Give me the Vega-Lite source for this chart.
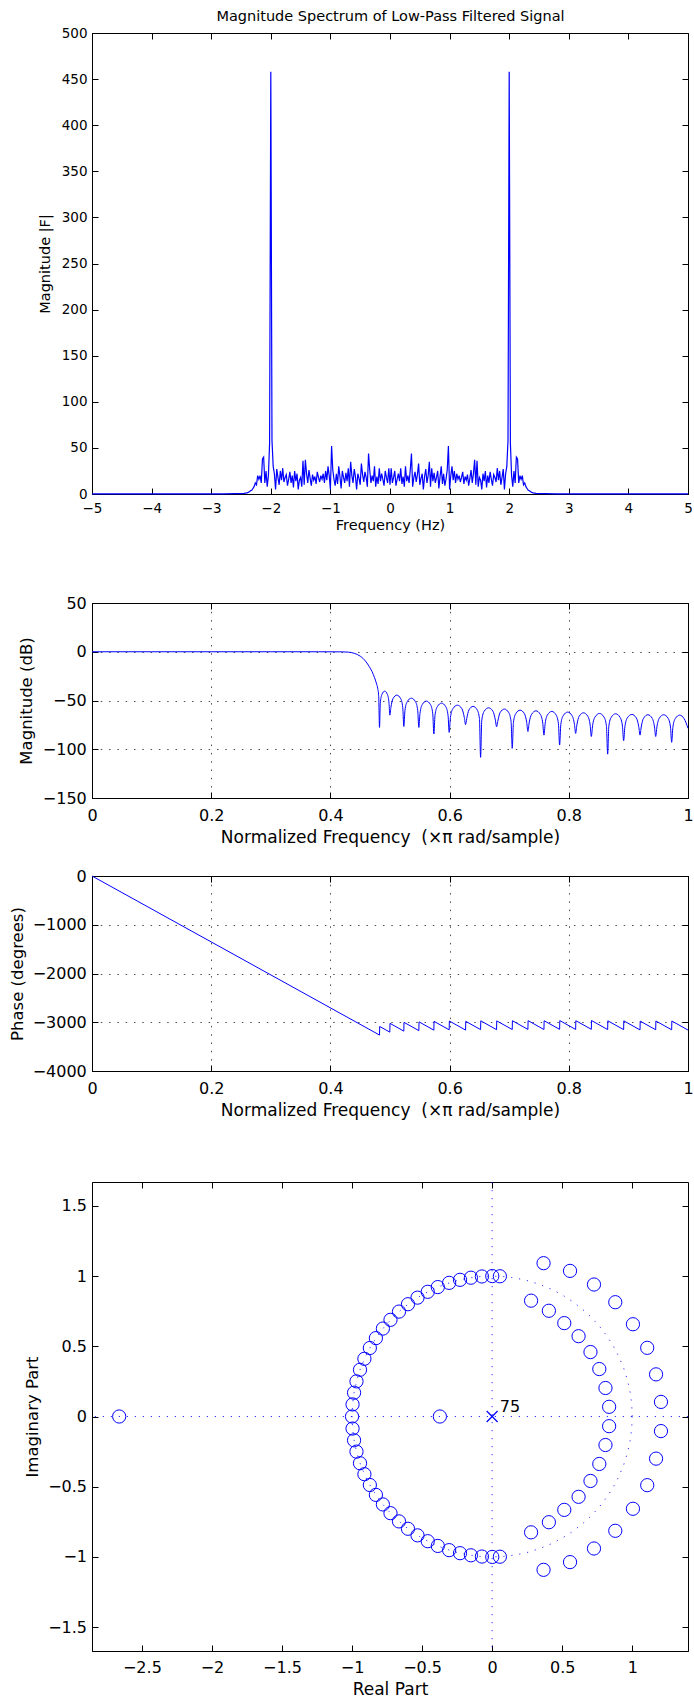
{
"$schema":"https://vega.github.io/schema/vega-lite/v6.json",
"background":"white",
"padding":{"left":9,"top":7,"right":0,"bottom":0},
"config":{"font":"DejaVu Sans","view":{"stroke":"#000","strokeWidth":1},
"axis":{"domainColor":"#000","domainWidth":1,"tickColor":"#000","tickWidth":1,"tickSize":-6,"labelColor":"#000","titleColor":"#000","titleFontWeight":"normal","labelFlush":false,"labelOverlap":false,"grid":false,"labelExpr":"format(datum.value, '~g')"}},
"spacing":0,
"bounds":"flush",
"vconcat":[
{"width":596,"height":461,
"layer":[
{"data":{"values":[
{"f":-5,"m":0.1},{"f":-4,"m":0.1},{"f":-3.5,"m":0.12},{"f":-3,"m":0.15},{"f":-2.8,"m":0.2},{"f":-2.6,"m":0.3},{"f":-2.5,"m":0.45},{"f":-2.45,"m":0.7},{"f":-2.4,"m":1.2},{"f":-2.38,"m":1.8},{"f":-2.36,"m":2.5},{"f":-2.34,"m":3.5},{"f":-2.32,"m":4},{"f":-2.3,"m":6},{"f":-2.28,"m":8},{"f":-2.26,"m":12},{"f":-2.24,"m":10},{"f":-2.22,"m":20},{"f":-2.2,"m":16},{"f":-2.18,"m":20},{"f":-2.16,"m":12},{"f":-2.14,"m":38},{"f":-2.12,"m":40},{"f":-2.1,"m":12},{"f":-2.08,"m":25},{"f":-2.06,"m":8},{"f":-2.04,"m":20},{"f":-2.02,"m":55},{"f":-2,"m":458},{"f":-1.98,"m":58},{"f":-1.96,"m":30},{"f":-1.94,"m":22},{"f":-1.92,"m":5},{"f":-1.9,"m":27},{"f":-1.88,"m":18},{"f":-1.86,"m":10},{"f":-1.84,"m":25},{"f":-1.82,"m":15},{"f":-1.8,"m":28},{"f":-1.78,"m":13},{"f":-1.76,"m":18},{"f":-1.74,"m":21},{"f":-1.72,"m":9},{"f":-1.7,"m":16},{"f":-1.68,"m":24},{"f":-1.66,"m":12},{"f":-1.64,"m":20},{"f":-1.62,"m":7},{"f":-1.6,"m":25},{"f":-1.58,"m":14},{"f":-1.56,"m":22},{"f":-1.54,"m":5},{"f":-1.52,"m":15},{"f":-1.5,"m":18},{"f":-1.48,"m":8},{"f":-1.46,"m":36},{"f":-1.44,"m":10},{"f":-1.42,"m":37},{"f":-1.4,"m":22},{"f":-1.38,"m":12},{"f":-1.36,"m":26},{"f":-1.34,"m":17},{"f":-1.32,"m":9},{"f":-1.3,"m":21},{"f":-1.28,"m":15},{"f":-1.26,"m":19},{"f":-1.24,"m":11},{"f":-1.22,"m":24},{"f":-1.2,"m":18},{"f":-1.18,"m":13},{"f":-1.16,"m":20},{"f":-1.14,"m":16},{"f":-1.12,"m":22},{"f":-1.1,"m":12},{"f":-1.08,"m":25},{"f":-1.06,"m":15},{"f":-1.04,"m":30},{"f":-1.02,"m":20},{"f":-1,"m":5},{"f":-0.98,"m":52},{"f":-0.96,"m":26},{"f":-0.94,"m":16},{"f":-0.92,"m":9},{"f":-0.9,"m":22},{"f":-0.88,"m":11},{"f":-0.86,"m":30},{"f":-0.84,"m":19},{"f":-0.82,"m":6},{"f":-0.8,"m":25},{"f":-0.78,"m":18},{"f":-0.76,"m":12},{"f":-0.74,"m":23},{"f":-0.72,"m":14},{"f":-0.7,"m":28},{"f":-0.68,"m":8},{"f":-0.66,"m":35},{"f":-0.64,"m":20},{"f":-0.62,"m":12},{"f":-0.6,"m":27},{"f":-0.58,"m":19},{"f":-0.56,"m":5},{"f":-0.54,"m":22},{"f":-0.52,"m":17},{"f":-0.5,"m":10},{"f":-0.48,"m":33},{"f":-0.46,"m":21},{"f":-0.44,"m":13},{"f":-0.42,"m":24},{"f":-0.4,"m":18},{"f":-0.38,"m":8},{"f":-0.36,"m":44},{"f":-0.34,"m":26},{"f":-0.32,"m":12},{"f":-0.3,"m":20},{"f":-0.28,"m":14},{"f":-0.26,"m":30},{"f":-0.24,"m":8},{"f":-0.22,"m":19},{"f":-0.2,"m":11},{"f":-0.18,"m":28},{"f":-0.16,"m":14},{"f":-0.14,"m":22},{"f":-0.12,"m":16},{"f":-0.1,"m":9},{"f":-0.08,"m":25},{"f":-0.06,"m":18},{"f":-0.04,"m":12},{"f":-0.02,"m":28},
{"f":0,"m":10},
{"f":0.02,"m":28},{"f":0.04,"m":12},{"f":0.06,"m":18},{"f":0.08,"m":25},{"f":0.1,"m":9},{"f":0.12,"m":16},{"f":0.14,"m":22},{"f":0.16,"m":14},{"f":0.18,"m":28},{"f":0.2,"m":11},{"f":0.22,"m":19},{"f":0.24,"m":8},{"f":0.26,"m":30},{"f":0.28,"m":14},{"f":0.3,"m":20},{"f":0.32,"m":12},{"f":0.34,"m":26},{"f":0.36,"m":44},{"f":0.38,"m":8},{"f":0.4,"m":18},{"f":0.42,"m":24},{"f":0.44,"m":13},{"f":0.46,"m":21},{"f":0.48,"m":33},{"f":0.5,"m":10},{"f":0.52,"m":17},{"f":0.54,"m":22},{"f":0.56,"m":5},{"f":0.58,"m":19},{"f":0.6,"m":27},{"f":0.62,"m":12},{"f":0.64,"m":20},{"f":0.66,"m":35},{"f":0.68,"m":8},{"f":0.7,"m":28},{"f":0.72,"m":14},{"f":0.74,"m":23},{"f":0.76,"m":12},{"f":0.78,"m":18},{"f":0.8,"m":25},{"f":0.82,"m":6},{"f":0.84,"m":19},{"f":0.86,"m":30},{"f":0.88,"m":11},{"f":0.9,"m":22},{"f":0.92,"m":9},{"f":0.94,"m":16},{"f":0.96,"m":26},{"f":0.98,"m":52},{"f":1,"m":5},{"f":1.02,"m":20},{"f":1.04,"m":30},{"f":1.06,"m":15},{"f":1.08,"m":25},{"f":1.1,"m":12},{"f":1.12,"m":22},{"f":1.14,"m":16},{"f":1.16,"m":20},{"f":1.18,"m":13},{"f":1.2,"m":18},{"f":1.22,"m":24},{"f":1.24,"m":11},{"f":1.26,"m":19},{"f":1.28,"m":15},{"f":1.3,"m":21},{"f":1.32,"m":9},{"f":1.34,"m":17},{"f":1.36,"m":26},{"f":1.38,"m":12},{"f":1.4,"m":22},{"f":1.42,"m":37},{"f":1.44,"m":10},{"f":1.46,"m":36},{"f":1.48,"m":8},{"f":1.5,"m":18},{"f":1.52,"m":15},{"f":1.54,"m":5},{"f":1.56,"m":22},{"f":1.58,"m":14},{"f":1.6,"m":25},{"f":1.62,"m":7},{"f":1.64,"m":20},{"f":1.66,"m":12},{"f":1.68,"m":24},{"f":1.7,"m":16},{"f":1.72,"m":9},{"f":1.74,"m":21},{"f":1.76,"m":18},{"f":1.78,"m":13},{"f":1.8,"m":28},{"f":1.82,"m":15},{"f":1.84,"m":25},{"f":1.86,"m":10},{"f":1.88,"m":18},{"f":1.9,"m":27},{"f":1.92,"m":5},{"f":1.94,"m":22},{"f":1.96,"m":30},{"f":1.98,"m":58},{"f":2,"m":458},{"f":2.02,"m":55},{"f":2.04,"m":20},{"f":2.06,"m":8},{"f":2.08,"m":25},{"f":2.1,"m":12},{"f":2.12,"m":40},{"f":2.14,"m":38},{"f":2.16,"m":12},{"f":2.18,"m":20},{"f":2.2,"m":16},{"f":2.22,"m":20},{"f":2.24,"m":10},{"f":2.26,"m":12},{"f":2.28,"m":8},{"f":2.3,"m":6},{"f":2.32,"m":4},{"f":2.34,"m":3.5},{"f":2.36,"m":2.5},{"f":2.38,"m":1.8},{"f":2.4,"m":1.2},{"f":2.45,"m":0.7},{"f":2.5,"m":0.45},{"f":2.6,"m":0.3},{"f":2.8,"m":0.2},{"f":3,"m":0.15},{"f":3.5,"m":0.12},{"f":4,"m":0.1},{"f":5,"m":0.1}
]},
"mark":{"type":"line","color":"#0000ff","strokeWidth":1.2},
"encoding":{
"x":{"field":"f","type":"quantitative","scale":{"domain":[-5,5],"nice":false,"zero":false},
"axis":{"orient":"bottom","values":[-5,-4,-3,-2,-1,0,1,2,3,4,5],"labelFontSize":13.5,"labelPadding":20.2,"labelBaseline":"middle","title":"Frequency (Hz)","titleFontSize":14.5,"titleBaseline":"middle","titleAlign":"center","titleX":298,"titleY":31.5}},
"y":{"field":"m","type":"quantitative","scale":{"domain":[0,500],"nice":false,"zero":false},
"axis":{"orient":"left","values":[0,50,100,150,200,250,300,350,400,450,500],"labelFontSize":13.5,"labelPadding":11,"title":"Magnitude |F|","titleFontSize":14.5,"titleBaseline":"middle","titleAlign":"center","titleAngle":270,"titleX":-46.8,"titleY":230.5}}}},
{"data":{"values":[{}]},"mark":{"type":"point","opacity":0},
"encoding":{
"x":{"datum":0,"type":"quantitative","axis":{"orient":"top","values":[-5,-4,-3,-2,-1,0,1,2,3,4,5],"labels":false,"domain":false,"title":"Magnitude Spectrum of Low-Pass Filtered Signal","titleFontSize":14.5,"titleBaseline":"alphabetic","titleAlign":"center","titleAngle":0,"titleX":298,"titleY":-12.6}},
"y":{"datum":0,"type":"quantitative","axis":{"orient":"right","values":[0,50,100,150,200,250,300,350,400,450,500],"labels":false,"title":null,"domain":false}}}}
],
"resolve":{"axis":{"x":"independent","y":"independent"}}},
{"width":596,"height":109,"data":{"values":[{}]},"mark":{"type":"point","opacity":0},"encoding":{},"view":{"stroke":null}},
{"width":596,"height":195,
"layer":[
{"data":{"values":[
{"x":0,"db":0},{"x":0.1,"db":0},{"x":0.2,"db":0},{"x":0.3,"db":0},{"x":0.38,"db":0},{"x":0.42,"db":-0.1},{"x":0.43,"db":-0.4},{"x":0.44,"db":-1.6},{"x":0.45,"db":-4.5},{"x":0.455,"db":-7},{"x":0.46,"db":-10.5},{"x":0.465,"db":-15},{"x":0.47,"db":-20.5},{"x":0.474,"db":-26.5},{"x":0.477,"db":-32},{"x":0.4795,"db":-38},{"x":0.481,"db":-45},
{"x":0.4824,"db":-77.6},
{"x":0.4837,"db":-53},{"x":0.4863,"db":-44},{"x":0.4911,"db":-40.4},{"x":0.4958,"db":-44},{"x":0.4984,"db":-53},
{"x":0.4997,"db":-65},
{"x":0.5015,"db":-57.1},{"x":0.505,"db":-48.1},{"x":0.5115,"db":-44.5},{"x":0.5179,"db":-48.1},{"x":0.5214,"db":-57.1},
{"x":0.5232,"db":-76.6},
{"x":0.5251,"db":-60.2},{"x":0.5289,"db":-51.2},{"x":0.5358,"db":-47.6},{"x":0.5427,"db":-51.2},{"x":0.5465,"db":-60.2},
{"x":0.5484,"db":-77.6},
{"x":0.5503,"db":-63.2},{"x":0.5541,"db":-54.2},{"x":0.561,"db":-50.6},{"x":0.5679,"db":-54.2},{"x":0.5717,"db":-63.2},
{"x":0.5736,"db":-84.4},
{"x":0.5755,"db":-65.3},{"x":0.5794,"db":-56.3},{"x":0.5865,"db":-52.7},{"x":0.5935,"db":-56.3},{"x":0.5974,"db":-65.3},
{"x":0.5993,"db":-82.7},
{"x":0.6014,"db":-67.4},{"x":0.6055,"db":-58.4},{"x":0.6131,"db":-54.8},{"x":0.6206,"db":-58.4},{"x":0.6247,"db":-67.4},
{"x":0.6268,"db":-74.7},
{"x":0.6287,"db":-68.6},{"x":0.6325,"db":-59.6},{"x":0.6394,"db":-56},{"x":0.6463,"db":-59.6},{"x":0.6501,"db":-68.6},
{"x":0.652,"db":-108.3},
{"x":0.654,"db":-70.1},{"x":0.658,"db":-61.1},{"x":0.6654,"db":-57.5},{"x":0.6728,"db":-61.1},{"x":0.6768,"db":-70.1},
{"x":0.6788,"db":-76.9},
{"x":0.6808,"db":-71.4},{"x":0.6847,"db":-62.4},{"x":0.692,"db":-58.8},{"x":0.6992,"db":-62.4},{"x":0.7031,"db":-71.4},
{"x":0.7051,"db":-99.1},
{"x":0.7071,"db":-72.5},{"x":0.711,"db":-63.5},{"x":0.7183,"db":-59.9},{"x":0.7255,"db":-63.5},{"x":0.7294,"db":-72.5},
{"x":0.7314,"db":-81.8},
{"x":0.7334,"db":-73.2},{"x":0.7375,"db":-64.2},{"x":0.7449,"db":-60.6},{"x":0.7522,"db":-64.2},{"x":0.7563,"db":-73.2},
{"x":0.7583,"db":-85.5},
{"x":0.7603,"db":-73.8},{"x":0.7642,"db":-64.8},{"x":0.7715,"db":-61.2},{"x":0.7787,"db":-64.8},{"x":0.7826,"db":-73.8},
{"x":0.7846,"db":-95.7},
{"x":0.7866,"db":-74.5},{"x":0.7907,"db":-65.5},{"x":0.7981,"db":-61.9},{"x":0.8054,"db":-65.5},{"x":0.8095,"db":-74.5},
{"x":0.8115,"db":-83.8},
{"x":0.8135,"db":-75.2},{"x":0.8174,"db":-66.2},{"x":0.8247,"db":-62.6},{"x":0.8319,"db":-66.2},{"x":0.8358,"db":-75.2},
{"x":0.8378,"db":-86.9},
{"x":0.8399,"db":-75.9},{"x":0.844,"db":-66.9},{"x":0.8515,"db":-63.3},{"x":0.859,"db":-66.9},{"x":0.8631,"db":-75.9},
{"x":0.8652,"db":-105},
{"x":0.8672,"db":-76.2},{"x":0.8712,"db":-67.2},{"x":0.8786,"db":-63.6},{"x":0.886,"db":-67.2},{"x":0.89,"db":-76.2},
{"x":0.892,"db":-91.2},
{"x":0.8941,"db":-76.9},{"x":0.8982,"db":-67.9},{"x":0.9058,"db":-64.3},{"x":0.9133,"db":-67.9},{"x":0.9174,"db":-76.9},
{"x":0.9195,"db":-85.5},
{"x":0.9215,"db":-77.2},{"x":0.9254,"db":-68.2},{"x":0.9327,"db":-64.6},{"x":0.9399,"db":-68.2},{"x":0.9438,"db":-77.2},
{"x":0.9458,"db":-86.9},
{"x":0.9478,"db":-77.2},{"x":0.9518,"db":-68.2},{"x":0.9592,"db":-64.6},{"x":0.9666,"db":-68.2},{"x":0.9706,"db":-77.2},
{"x":0.9726,"db":-92.9},
{"x":0.9746,"db":-77.6},{"x":0.9786,"db":-68.6},{"x":0.986,"db":-65},{"x":0.9934,"db":-68.6},{"x":1,"db":-78.5}
]},
"mark":{"type":"line","color":"#0000ff","strokeWidth":1,"interpolate":"monotone"},
"encoding":{
"x":{"field":"x","type":"quantitative","scale":{"domain":[0,1],"nice":false,"zero":false},
"axis":{"orient":"bottom","values":[0,0.2,0.4,0.6,0.8,1],"labelFontSize":16,"labelPadding":23.2,"labelBaseline":"middle","grid":true,"gridDash":[1.5,6.8],"gridColor":"#000","gridOpacity":0.7,"title":"Normalized Frequency \u00a0(\u00d7\u03c0 rad/sample)","titleFontSize":17,"titleBaseline":"middle","titleAlign":"center","titleX":298,"titleY":39.3}},
"y":{"field":"db","type":"quantitative","scale":{"domain":[-150,50],"nice":false,"zero":false},
"axis":{"orient":"left","values":[-150,-100,-50,0,50],"labelFontSize":16,"labelPadding":11.7,"grid":true,"gridDash":[1.5,6.8],"gridColor":"#000","gridOpacity":0.7,"title":"Magnitude (dB)","titleFontSize":16.5,"titleBaseline":"middle","titleAlign":"center","titleAngle":270,"titleX":-65.9,"titleY":97.5}}}},
{"data":{"values":[{}]},"mark":{"type":"point","opacity":0},
"encoding":{
"x":{"datum":0,"type":"quantitative","axis":{"orient":"top","values":[0,0.2,0.4,0.6,0.8,1],"labels":false,"title":null,"domain":false}},
"y":{"datum":0,"type":"quantitative","axis":{"orient":"right","values":[-150,-100,-50,0,50],"labels":false,"title":null,"domain":false}}}}
],
"resolve":{"axis":{"x":"independent","y":"independent"}}},
{"width":596,"height":78,"data":{"values":[{}]},"mark":{"type":"point","opacity":0},"encoding":{},"view":{"stroke":null}},
{"width":596,"height":195,
"layer":[
{"data":{"values":[
{"x":0,"ph":0},{"x":0.4824,"ph":-3262},{"x":0.4827,"ph":-3086},{"x":0.4997,"ph":-3203},{"x":0.5,"ph":-3023},{"x":0.5232,"ph":-3182},{"x":0.5235,"ph":-3002},{"x":0.5484,"ph":-3172},{"x":0.5487,"ph":-2992},{"x":0.5736,"ph":-3162},{"x":0.5739,"ph":-2982},{"x":0.5993,"ph":-3155},{"x":0.5996,"ph":-2975},{"x":0.6268,"ph":-3161},{"x":0.6271,"ph":-2981},{"x":0.652,"ph":-3151},{"x":0.6523,"ph":-2971},{"x":0.6788,"ph":-3152},{"x":0.6791,"ph":-2972},{"x":0.7051,"ph":-3149},{"x":0.7054,"ph":-2969},{"x":0.7314,"ph":-3147},{"x":0.7317,"ph":-2967},{"x":0.7583,"ph":-3149},{"x":0.7586,"ph":-2969},{"x":0.7846,"ph":-3146},{"x":0.7849,"ph":-2966},{"x":0.8115,"ph":-3148},{"x":0.8118,"ph":-2968},{"x":0.8378,"ph":-3145},{"x":0.8381,"ph":-2965},{"x":0.8652,"ph":-3150},{"x":0.8655,"ph":-2970},{"x":0.892,"ph":-3151},{"x":0.8923,"ph":-2971},{"x":0.9195,"ph":-3157},{"x":0.9198,"ph":-2977},{"x":0.9458,"ph":-3154},{"x":0.9461,"ph":-2974},{"x":0.9726,"ph":-3155},{"x":0.9729,"ph":-2975},{"x":1,"ph":-3160}
]},
"mark":{"type":"line","color":"#0000ff","strokeWidth":1},
"encoding":{
"x":{"field":"x","type":"quantitative","scale":{"domain":[0,1],"nice":false,"zero":false},
"axis":{"orient":"bottom","values":[0,0.2,0.4,0.6,0.8,1],"labelFontSize":16,"labelPadding":23.2,"labelBaseline":"middle","grid":true,"gridDash":[1.5,6.8],"gridColor":"#000","gridOpacity":0.7,"title":"Normalized Frequency \u00a0(\u00d7\u03c0 rad/sample)","titleFontSize":17,"titleBaseline":"middle","titleAlign":"center","titleX":298,"titleY":39.3}},
"y":{"field":"ph","type":"quantitative","scale":{"domain":[-4000,0],"nice":false,"zero":false},
"axis":{"orient":"left","values":[-4000,-3000,-2000,-1000,0],"labelFontSize":16,"labelPadding":11.7,"grid":true,"gridDash":[1.5,6.8],"gridColor":"#000","gridOpacity":0.7,"title":"Phase (degrees)","titleFontSize":16.5,"titleBaseline":"middle","titleAlign":"center","titleAngle":270,"titleX":-74.4,"titleY":97.5}}}},
{"data":{"values":[{}]},"mark":{"type":"point","opacity":0},
"encoding":{
"x":{"datum":0,"type":"quantitative","axis":{"orient":"top","values":[0,0.2,0.4,0.6,0.8,1],"labels":false,"title":null,"domain":false}},
"y":{"datum":0,"type":"quantitative","axis":{"orient":"right","values":[-4000,-3000,-2000,-1000,0],"labels":false,"title":null,"domain":false}}}}
],
"resolve":{"axis":{"x":"independent","y":"independent"}}},
{"width":596,"height":111,"data":{"values":[{}]},"mark":{"type":"point","opacity":0},"encoding":{},"view":{"stroke":null}},
{"width":596,"height":469,
"layer":[
{"data":{"values":[{}]},"mark":{"type":"rule","color":"#0000ff","strokeDash":[1.2,6.8],"strokeWidth":1,"opacity":0.8},
"encoding":{"x":{"datum":0,"type":"quantitative","scale":{"domain":[-2.856,1.398],"nice":false,"zero":false},"axis":null}}},
{"data":{"values":[{}]},"mark":{"type":"rule","color":"#0000ff","strokeDash":[1.2,6.8],"strokeWidth":1,"opacity":0.8},
"encoding":{"y":{"datum":0,"type":"quantitative","scale":{"domain":[-1.67,1.67],"nice":false,"zero":false},"axis":null}}},
{"data":{"values":[
{"t":0,"re":1,"im":0},{"t":5,"re":0.9962,"im":0.0872},{"t":10,"re":0.9848,"im":0.1736},{"t":15,"re":0.9659,"im":0.2588},{"t":20,"re":0.9397,"im":0.342},{"t":25,"re":0.9063,"im":0.4226},{"t":30,"re":0.866,"im":0.5},{"t":35,"re":0.8192,"im":0.5736},{"t":40,"re":0.766,"im":0.6428},{"t":45,"re":0.7071,"im":0.7071},{"t":50,"re":0.6428,"im":0.766},{"t":55,"re":0.5736,"im":0.8192},{"t":60,"re":0.5,"im":0.866},{"t":65,"re":0.4226,"im":0.9063},{"t":70,"re":0.342,"im":0.9397},{"t":75,"re":0.2588,"im":0.9659},{"t":80,"re":0.1736,"im":0.9848},{"t":85,"re":0.0872,"im":0.9962},{"t":90,"re":0,"im":1},{"t":95,"re":-0.0872,"im":0.9962},{"t":100,"re":-0.1736,"im":0.9848},{"t":105,"re":-0.2588,"im":0.9659},{"t":110,"re":-0.342,"im":0.9397},{"t":115,"re":-0.4226,"im":0.9063},{"t":120,"re":-0.5,"im":0.866},{"t":125,"re":-0.5736,"im":0.8192},{"t":130,"re":-0.6428,"im":0.766},{"t":135,"re":-0.7071,"im":0.7071},{"t":140,"re":-0.766,"im":0.6428},{"t":145,"re":-0.8192,"im":0.5736},{"t":150,"re":-0.866,"im":0.5},{"t":155,"re":-0.9063,"im":0.4226},{"t":160,"re":-0.9397,"im":0.342},{"t":165,"re":-0.9659,"im":0.2588},{"t":170,"re":-0.9848,"im":0.1736},{"t":175,"re":-0.9962,"im":0.0872},{"t":180,"re":-1,"im":0},{"t":185,"re":-0.9962,"im":-0.0872},{"t":190,"re":-0.9848,"im":-0.1736},{"t":195,"re":-0.9659,"im":-0.2588},{"t":200,"re":-0.9397,"im":-0.342},{"t":205,"re":-0.9063,"im":-0.4226},{"t":210,"re":-0.866,"im":-0.5},{"t":215,"re":-0.8192,"im":-0.5736},{"t":220,"re":-0.766,"im":-0.6428},{"t":225,"re":-0.7071,"im":-0.7071},{"t":230,"re":-0.6428,"im":-0.766},{"t":235,"re":-0.5736,"im":-0.8192},{"t":240,"re":-0.5,"im":-0.866},{"t":245,"re":-0.4226,"im":-0.9063},{"t":250,"re":-0.342,"im":-0.9397},{"t":255,"re":-0.2588,"im":-0.9659},{"t":260,"re":-0.1736,"im":-0.9848},{"t":265,"re":-0.0872,"im":-0.9962},{"t":270,"re":0,"im":-1},{"t":275,"re":0.0872,"im":-0.9962},{"t":280,"re":0.1736,"im":-0.9848},{"t":285,"re":0.2588,"im":-0.9659},{"t":290,"re":0.342,"im":-0.9397},{"t":295,"re":0.4226,"im":-0.9063},{"t":300,"re":0.5,"im":-0.866},{"t":305,"re":0.5736,"im":-0.8192},{"t":310,"re":0.6428,"im":-0.766},{"t":315,"re":0.7071,"im":-0.7071},{"t":320,"re":0.766,"im":-0.6428},{"t":325,"re":0.8192,"im":-0.5736},{"t":330,"re":0.866,"im":-0.5},{"t":335,"re":0.9063,"im":-0.4226},{"t":340,"re":0.9397,"im":-0.342},{"t":345,"re":0.9659,"im":-0.2588},{"t":350,"re":0.9848,"im":-0.1736},{"t":355,"re":0.9962,"im":-0.0872},{"t":360,"re":1,"im":0}
]},
"mark":{"type":"line","color":"#0000ff","strokeDash":[1.2,6.8],"strokeWidth":1,"opacity":0.8},
"encoding":{"x":{"field":"re","type":"quantitative","axis":null},"y":{"field":"im","type":"quantitative","axis":null},"order":{"field":"t","type":"quantitative"}}},
{"data":{"values":[
{"re":0.0553,"im":0.9985},{"re":0.001,"im":1},{"re":-0.0729,"im":0.9973},{"re":-0.1514,"im":0.9885},{"re":-0.2292,"im":0.9734},{"re":-0.3069,"im":0.9518},{"re":-0.3878,"im":0.9217},{"re":-0.4596,"im":0.8881},{"re":-0.5326,"im":0.8464},{"re":-0.6007,"im":0.7995},{"re":-0.6648,"im":0.747},{"re":-0.7254,"im":0.6884},{"re":-0.7797,"im":0.6262},{"re":-0.8297,"im":0.5581},{"re":-0.8729,"im":0.4879},{"re":-0.9117,"im":0.4109},{"re":-0.943,"im":0.3328},{"re":-0.9682,"im":0.2502},{"re":-0.9855,"im":0.1695},{"re":-0.9963,"im":0.0859},
{"re":-1,"im":0},
{"re":0.0553,"im":-0.9985},{"re":0.001,"im":-1},{"re":-0.0729,"im":-0.9973},{"re":-0.1514,"im":-0.9885},{"re":-0.2292,"im":-0.9734},{"re":-0.3069,"im":-0.9518},{"re":-0.3878,"im":-0.9217},{"re":-0.4596,"im":-0.8881},{"re":-0.5326,"im":-0.8464},{"re":-0.6007,"im":-0.7995},{"re":-0.6648,"im":-0.747},{"re":-0.7254,"im":-0.6884},{"re":-0.7797,"im":-0.6262},{"re":-0.8297,"im":-0.5581},{"re":-0.8729,"im":-0.4879},{"re":-0.9117,"im":-0.4109},{"re":-0.943,"im":-0.3328},{"re":-0.9682,"im":-0.2502},{"re":-0.9855,"im":-0.1695},{"re":-0.9963,"im":-0.0859},
{"re":0.367,"im":1.092},{"re":0.556,"im":1.037},{"re":0.727,"im":0.94},{"re":0.879,"im":0.814},{"re":1.005,"im":0.657},{"re":1.107,"im":0.489},{"re":1.17,"im":0.3},{"re":1.205,"im":0.104},
{"re":0.367,"im":-1.092},{"re":0.556,"im":-1.037},{"re":0.727,"im":-0.94},{"re":0.879,"im":-0.814},{"re":1.005,"im":-0.657},{"re":1.107,"im":-0.489},{"re":1.17,"im":-0.3},{"re":1.205,"im":-0.104},
{"re":0.278,"im":0.825},{"re":0.405,"im":0.753},{"re":0.515,"im":0.665},{"re":0.617,"im":0.572},{"re":0.702,"im":0.459},{"re":0.765,"im":0.338},{"re":0.809,"im":0.203},{"re":0.835,"im":0.069},
{"re":0.278,"im":-0.825},{"re":0.405,"im":-0.753},{"re":0.515,"im":-0.665},{"re":0.617,"im":-0.572},{"re":0.702,"im":-0.459},{"re":0.765,"im":-0.338},{"re":0.809,"im":-0.203},{"re":0.835,"im":-0.069},
{"re":-2.662,"im":0},{"re":-0.373,"im":0}
]},
"mark":{"type":"point","shape":"circle","filled":false,"color":"#0000ff","size":175,"strokeWidth":1,"opacity":1},
"encoding":{
"x":{"field":"re","type":"quantitative","axis":{"orient":"bottom","values":[-2.5,-2,-1.5,-1,-0.5,0,0.5,1],"labelFontSize":16,"labelPadding":22.4,"labelBaseline":"middle","title":"Real Part","titleFontSize":17,"titleBaseline":"middle","titleAlign":"center","titleX":298,"titleY":38.4}},
"y":{"field":"im","type":"quantitative","axis":{"orient":"left","values":[-1.5,-1,-0.5,0,0.5,1,1.5],"labelFontSize":16,"labelPadding":11.5,"title":"Imaginary Part","titleFontSize":16.5,"titleBaseline":"middle","titleAlign":"center","titleAngle":270,"titleX":-59.2,"titleY":234.5}}}},
{"data":{"values":[{"re":0,"im":0}]},
"mark":{"type":"point","shape":"M-1,-1L1,1M-1,1L1,-1","filled":false,"color":"#0000ff","size":120,"strokeWidth":1.2,"opacity":1},
"encoding":{"x":{"field":"re","type":"quantitative","axis":null},"y":{"field":"im","type":"quantitative","axis":null}}},
{"data":{"values":[{"re":0.055,"im":0.033,"label":"75"}]},
"mark":{"type":"text","align":"left","baseline":"alphabetic","fontSize":16,"color":"#000"},
"encoding":{"x":{"field":"re","type":"quantitative","axis":null},"y":{"field":"im","type":"quantitative","axis":null},"text":{"field":"label"}}},
{"data":{"values":[{}]},"mark":{"type":"point","opacity":0},
"encoding":{
"x":{"datum":0,"type":"quantitative","axis":{"orient":"top","values":[-2.5,-2,-1.5,-1,-0.5,0,0.5,1],"labels":false,"title":null,"domain":false}},
"y":{"datum":0,"type":"quantitative","axis":{"orient":"right","values":[-1.5,-1,-0.5,0,0.5,1,1.5],"labels":false,"title":null,"domain":false}}}}
],
"resolve":{"axis":{"x":"independent","y":"independent"}}}
]
}
